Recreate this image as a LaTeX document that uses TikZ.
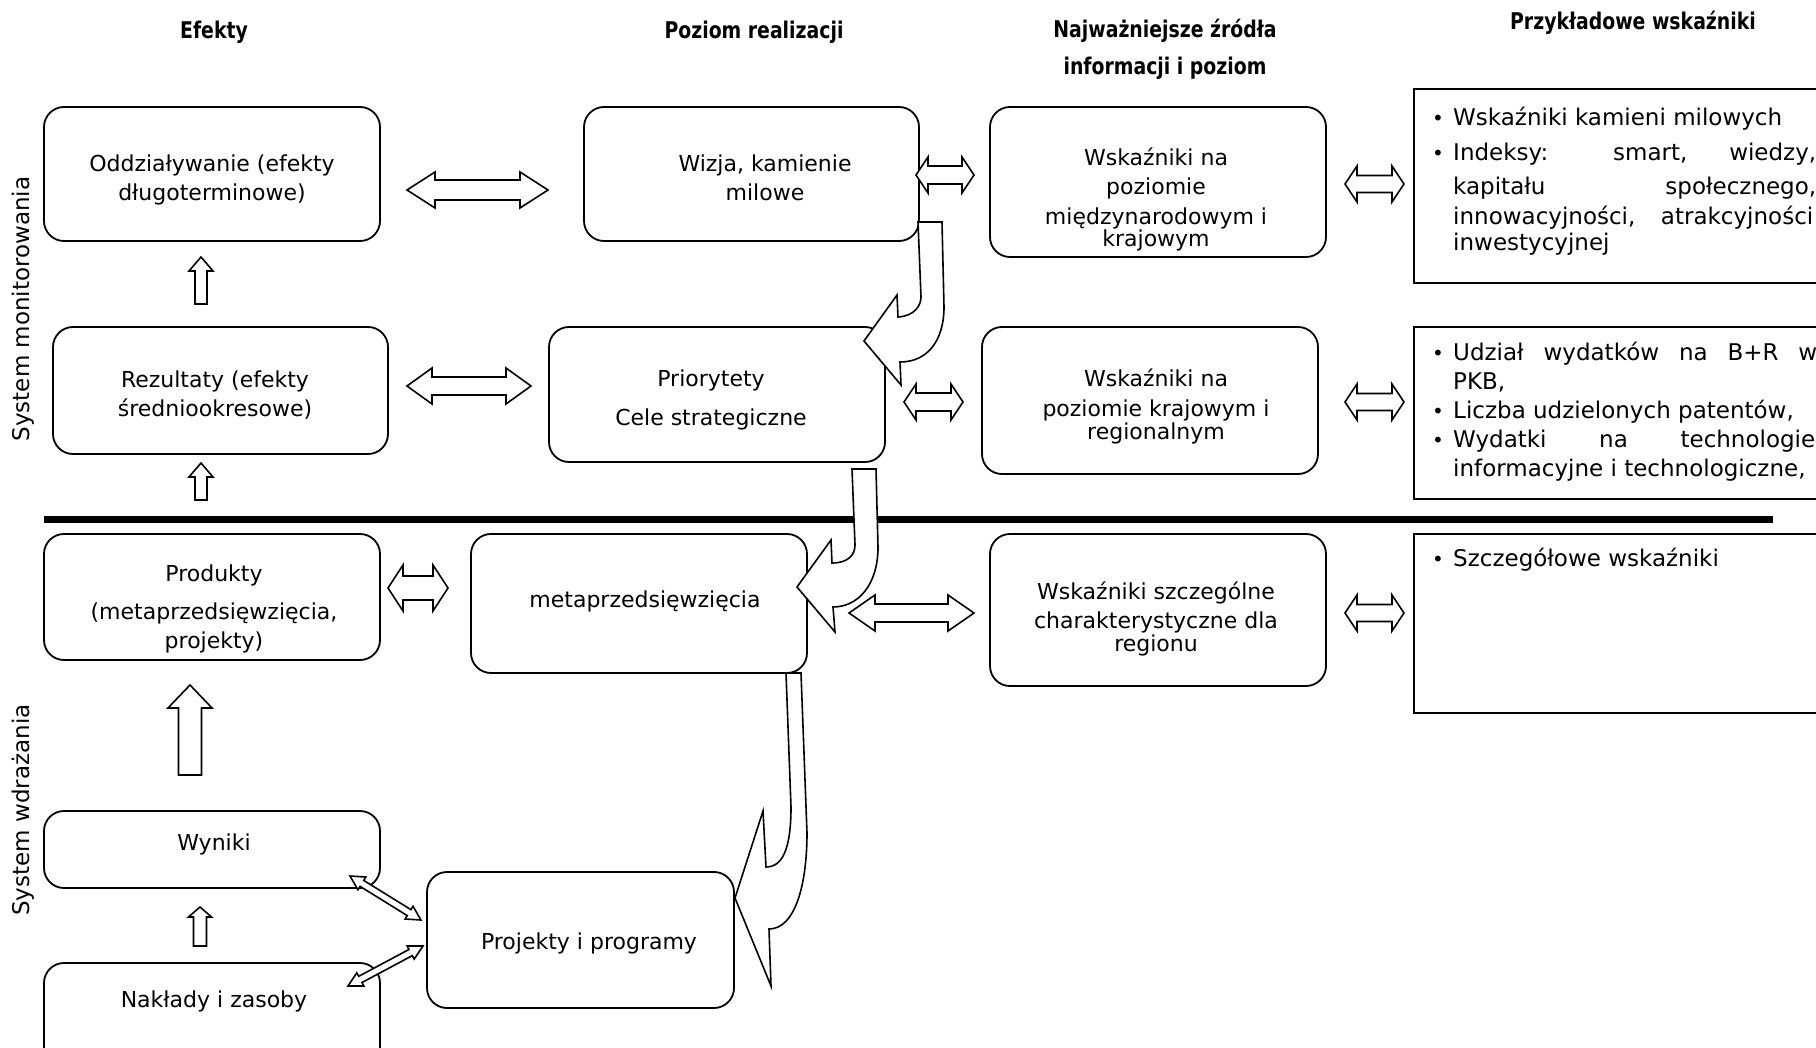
\documentclass[tikz,border=0pt]{standalone}
\usepackage{fontspec}
\setmainfont{DejaVu Sans}
\newfontfamily\hdrfont{DejaVu Sans}[FakeStretch=0.82]
\newcommand{\myDbl}[7]{%
  \begin{scope}[shift={(#1,#2)}, rotate=#3]
    \draw[blk] (0,0) -- (#5,-#6) -- (#5,-#7) -- (#4-#5,-#7) -- (#4-#5,-#6) -- (#4,0)
      -- (#4-#5,#6) -- (#4-#5,#7) -- (#5,#7) -- (#5,#6) -- cycle;
  \end{scope}}
\newcommand{\mySgl}[7]{%
  \begin{scope}[shift={(#1,#2)}, rotate=#3]
    \draw[blk] (0,-#7) -- (#4-#5,-#7) -- (#4-#5,-#6) -- (#4,0)
      -- (#4-#5,#6) -- (#4-#5,#7) -- (0,#7) -- cycle;
  \end{scope}}
\begin{document}
\begin{tikzpicture}[x=1pt,y=-1pt,
  box/.style={draw, line width=1.8pt, rounded corners=20pt, inner sep=0pt},
  rbox/.style={draw, line width=1.8pt, inner sep=0pt},
  lbl/.style={inner sep=0pt, text height=16pt, text depth=5pt, font=\fontsize{22}{26}\selectfont},
  rl/.style={inner sep=0pt, anchor=west, text height=17pt, text depth=5pt, font=\fontsize{23}{27}\selectfont},
  bul/.style={inner sep=0pt, text height=17pt, text depth=5pt, font=\fontsize{20}{27}\selectfont},
  hdr/.style={inner sep=0pt, font=\hdrfont\bfseries\fontsize{23}{27}\selectfont},
  side/.style={inner sep=0pt, rotate=90, font=\fontsize{23}{27}\selectfont},
  blk/.style={draw, fill=white, line width=1.6pt, line join=miter}]
\useasboundingbox (0,0) rectangle (1816,1048);
\clip (0,0) rectangle (1816,1048);
\fill[white] (0,0) rectangle (1816,1048);

% headers
\node[hdr] (h1) at (214,32) {Efekty};
\node[hdr] (h2) at (754,32) {Poziom realizacji};
\node[hdr] (h3a) at (1165,31) {Najważniejsze źródła};
\node[hdr] (h3b) at (1165,68) {informacji i poziom};
\node[hdr] (h4) at (1633,23) {Przykładowe wskaźniki};

% side labels
\node[side] (s1) at (23,309) {System monitorowania};
\node[side] (s2) at (23,810) {System wdrażania};

% boxes
\node[box, minimum width=336pt, minimum height=134pt] (oddz) at (212,174) {};
\node[box, minimum width=335pt, minimum height=134pt] (wizja) at (751.5,174) {};
\node[box, minimum width=336pt, minimum height=150pt] (wskm) at (1158,182) {};
\node[box, minimum width=335pt, minimum height=127pt] (rez) at (220.5,390.5) {};
\node[box, minimum width=336pt, minimum height=135pt] (prio) at (717,394.5) {};
\node[box, minimum width=336pt, minimum height=147pt] (wskk) at (1150,400.5) {};
\node[box, minimum width=336pt, minimum height=126pt] (prod) at (212,597) {};
\node[box, minimum width=336pt, minimum height=139pt] (meta) at (639,603.5) {};
\node[box, minimum width=336pt, minimum height=152pt] (wsks) at (1158,610) {};
\node[box, minimum width=336pt, minimum height=77pt] (wyn) at (212,849.5) {};
\node[box, minimum width=336pt, minimum height=107pt] (nakl) at (212,1016.5) {};
\node[box, minimum width=307pt, minimum height=136pt] (proj) at (580.5,940) {};
\node[rbox, minimum width=416pt, minimum height=194pt] (r1) at (1622,186) {};
\node[rbox, minimum width=416pt, minimum height=172pt] (r2) at (1622,413) {};
\node[rbox, minimum width=416pt, minimum height=179pt] (r3) at (1622,623.5) {};

% divider
\coordinate (d1) at (44,519.5);
\coordinate (d2) at (1773,519.5);
\draw[line width=7pt] (d1) -- (d2);

% box texts
\node[lbl] (t1) at (212,166) {Oddziaływanie (efekty};
\node[lbl] (t2) at (212,195) {długoterminowe)};
\node[lbl] (t3) at (765,166) {Wizja, kamienie};
\node[lbl] (t4) at (765,195) {milowe};
\node[lbl] (t5) at (1156,160) {Wskaźniki na};
\node[lbl] (t6) at (1156,189) {poziomie};
\node[lbl] (t7) at (1156,219) {międzynarodowym i};
\node[lbl] (t8) at (1156,241) {krajowym};
\node[lbl] (t9) at (215,382) {Rezultaty (efekty};
\node[lbl] (t10) at (215,411) {średniookresowe)};
\node[lbl] (t11) at (711,381) {Priorytety};
\node[lbl] (t12) at (711,420) {Cele strategiczne};
\node[lbl] (t13) at (1156,381) {Wskaźniki na};
\node[lbl] (t14) at (1156,411) {poziomie krajowym i};
\node[lbl] (t15) at (1156,434) {regionalnym};
\node[lbl] (t16) at (214,576) {Produkty};
\node[lbl] (t17) at (214,614) {(metaprzedsięwzięcia,};
\node[lbl] (t18) at (214,643) {projekty)};
\node[lbl] (t19) at (645,602) {metaprzedsięwzięcia};
\node[lbl] (t20) at (1156,594) {Wskaźniki szczególne};
\node[lbl] (t21) at (1156,623) {charakterystyczne dla};
\node[lbl] (t22) at (1156,646) {regionu};
\node[lbl] (t23) at (214,845) {Wyniki};
\node[lbl] (t24) at (214,1002) {Nakłady i zasoby};
\node[lbl] (t25) at (589,944) {Projekty i programy};

% right box texts
\node[bul] (b1) at (1438,120) {•};
\node[rl] (u1) at (1453,120) {Wskaźniki kamieni milowych};
\node[bul] (b2) at (1438,155) {•};
\node[rl] (u2) at (1453,155) {\makebox[363pt][s]{Indeksy: smart, wiedzy,}};
\node[rl] (u3) at (1453,189) {\makebox[363pt][s]{kapitału społecznego,}};
\node[rl] (u4) at (1453,219) {\makebox[360pt][s]{innowacyjności, atrakcyjności}};
\node[rl] (u5) at (1453,245) {inwestycyjnej};
\node[bul] (b3) at (1438,355) {•};
\node[rl] (u6) at (1453,355) {\makebox[364pt][s]{Udział wydatków na B+R w}};
\node[rl] (u7) at (1453,384) {PKB,};
\node[bul] (b4) at (1438,413) {•};
\node[rl] (u8) at (1453,413) {Liczba udzielonych patentów,};
\node[bul] (b5) at (1438,442) {•};
\node[rl] (u9) at (1453,442) {\makebox[362pt][s]{Wydatki na technologie}};
\node[rl] (u10) at (1453,470) {informacyjne i technologiczne,};
\node[bul] (b6) at (1438,560) {•};
\node[rl] (u11) at (1453,560) {Szczegółowe wskaźniki};

% vertical block arrows
\mySgl{201}{304}{90}{47}{14}{12}{6}
\mySgl{201}{500}{90}{37}{14}{12}{6}
\mySgl{190}{775}{90}{90}{23}{22}{11.5}
\mySgl{200}{946}{90}{39}{10}{11.5}{6.5}

% horizontal double arrows
\myDbl{407}{190}{0}{141}{28}{18}{10}
\myDbl{407}{386}{0}{124}{25}{18}{9}
\myDbl{916}{175}{0}{58}{12}{18}{9}
\myDbl{904}{402}{0}{59}{12}{18}{9}
\myDbl{388}{588}{0}{60}{15}{23}{12}
\myDbl{849}{613}{0}{125}{26}{18}{9}
\myDbl{1345}{184}{0}{59}{12}{18}{8.5}
\myDbl{1345}{402}{0}{59}{12}{18}{8.5}
\myDbl{1345}{613}{0}{59}{12}{18}{8.5}
% diagonal double arrows
\myDbl{350}{876}{-31.8}{83.5}{14}{7.5}{3.5}
\myDbl{348}{986}{28.1}{85}{14}{7.5}{3.5}

% curved block arrows
\draw[blk] (918,222) -- (942,222) -- (944,307) .. controls (944,340) and (928,362) .. (900,362)
  -- (901,385) -- (864,341) -- (897,295) -- (898,317) .. controls (915,316) and (921,305) .. (921,297) -- cycle;
\draw[blk] (852,469) -- (876,469) -- (878,547) .. controls (878,585) and (858,607) .. (833,607)
  -- (835,632) -- (797,587) -- (831,540) -- (832,563) .. controls (848,563) and (855,555) .. (855,545) -- cycle;
\draw[blk] (786,673) -- (801,673) -- (807,833) .. controls (807,885) and (795,929) .. (769,929)
  -- (771,986) -- (735,898) -- (763,811) -- (766,867) .. controls (782,867) and (791,850) .. (791,807) -- cycle;
\end{tikzpicture}
\end{document}
